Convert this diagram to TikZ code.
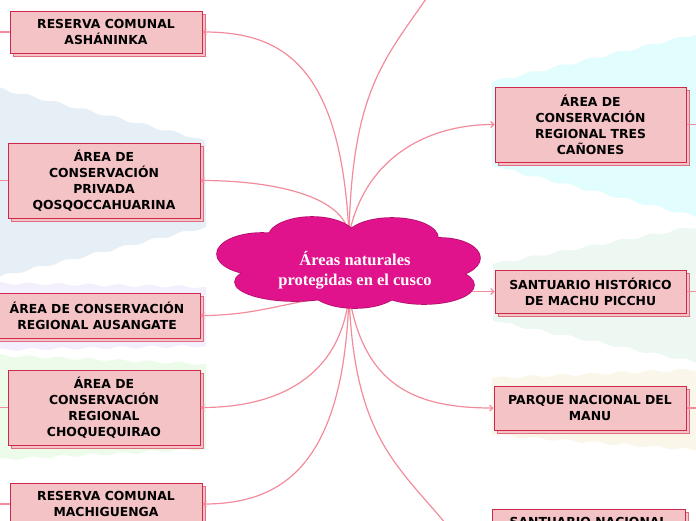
\documentclass[tikz,border=0pt]{standalone}
\usepackage{fontspec}
\setmainfont{DejaVu Sans}
\newfontfamily\hubfont{Liberation Serif}
\usetikzlibrary{arrows.meta,shadows,decorations.pathmorphing}
\definecolor{boxfill}{HTML}{F4C3C6}
\definecolor{boxline}{HTML}{D0284A}
\definecolor{shadowline}{HTML}{DE6E80}
\definecolor{linkcol}{HTML}{F28C9C}
\definecolor{hubfill}{HTML}{E0138C}
\definecolor{hubline}{HTML}{B30F6C}
\definecolor{bandblue}{HTML}{E6EFF6}
\definecolor{bandlilac}{HTML}{F4EFFC}
\definecolor{bandgreen}{HTML}{EDFCEA}
\definecolor{bandcyan}{HTML}{E1FDFE}
\definecolor{bandmint}{HTML}{EDF8F2}
\definecolor{bandsand}{HTML}{FAF6EA}

\begin{document}
\begin{tikzpicture}[x=1pt,y=-1pt,
  topic/.style={draw=boxline,line width=1pt,fill=boxfill,
    copy shadow={shadow xshift=3pt,shadow yshift=-3pt,draw=shadowline,fill=boxfill},
    align=center,minimum width=192pt,minimum height=42pt,inner sep=2pt,
    font=\fontsize{12.4}{16}\selectfont\bfseries},
  hub/.style={align=center,text=white,inner sep=0pt,
    font=\hubfont\fontsize{16.5}{20}\selectfont\bfseries},
  wave/.style={decorate,decoration={snake,amplitude=1.3pt,segment length=30pt}},
  link/.style={draw=linkcol,line width=1.2pt,-{Straight Barb[length=3pt,width=6pt]}},
  stub/.style={draw=linkcol,line width=1.2pt}
]
  \clip (0,0) rectangle (696,520);

  \fill[bandblue] (-10,86) decorate[wave]{-- (205,140)} -- (206,227) decorate[wave]{-- (-10,279)} -- cycle;
  \fill[bandlilac] (-10,283) decorate[wave]{-- (206,287)} -- (206,346) decorate[wave]{-- (-10,350)} -- cycle;
  \fill[bandgreen] (-10,355) decorate[wave]{-- (206,364)} -- (206,449) decorate[wave]{-- (-10,460)} -- cycle;
  \fill[bandcyan] (492,82) decorate[wave]{-- (710,31)} -- (710,220) decorate[wave]{-- (492,166)} -- cycle;
  \fill[bandmint] (493,264) decorate[wave]{-- (710,224)} -- (710,365) decorate[wave]{-- (493,321)} -- cycle;
  \fill[bandsand] (492,378) decorate[wave]{-- (710,369)} -- (710,451) decorate[wave]{-- (492,435)} -- cycle;

  \node[topic] (ash) at (106,32) {RESERVA COMUNAL\\ASHÁNINKA};
  \node[topic,minimum height=75pt] (qosqo) at (104,180.5) {ÁREA DE\\CONSERVACIÓN\\PRIVADA\\QOSQOCCAHUARINA};
  \node[topic,minimum width=206pt,minimum height=45pt] (ausangate) at (97,315.5) {ÁREA DE CONSERVACIÓN\\REGIONAL AUSANGATE};
  \node[topic,minimum height=75pt] (choque) at (104,407.5) {ÁREA DE\\CONSERVACIÓN\\REGIONAL\\CHOQUEQUIRAO};
  \node[topic] (machi) at (106,504) {RESERVA COMUNAL\\MACHIGUENGA};
  \node[topic,minimum width=191pt,minimum height=75pt] (tres) at (590.5,124.5) {ÁREA DE\\CONSERVACIÓN\\REGIONAL TRES\\CAÑONES};
  \node[topic,minimum width=191pt,minimum height=43pt] (machu) at (590.5,291.5) {SANTUARIO HISTÓRICO\\DE MACHU PICCHU};
  \node[topic,minimum height=44pt] (manu) at (590,408) {PARQUE NACIONAL DEL\\MANU};
  \node[topic,minimum width=193pt] (santuario) at (588.5,530) {SANTUARIO NACIONAL\\\phantom{X}};

  \coordinate (hubtop) at (349,235);
  \coordinate (hubbot) at (349,295);
  \coordinate (topout) at (428,-4);
  \coordinate (botout) at (446,524);
  \coordinate (edgeL) at (-20,0);
  \coordinate (edgeR) at (720,0);

  \path[link] (hubtop) .. controls +(-8,-170) and +(80,0) .. (ash.east);
  \path[stub] (hubtop) .. controls +(3,-145) and +(-43,63) .. (topout);
  \path[link] (hubtop) .. controls +(15,-75) and +(-70,0) .. (tres.west);
  \path[link] (hubtop) .. controls +(-5,-40) and +(70,0) .. (qosqo.east);
  \path[link] (hubbot) .. controls +(-60,5) and +(60,0) .. (ausangate.east);
  \path[link] (hubbot) .. controls +(-8,80) and +(80,0) .. (choque.east);
  \path[link] (hubbot) .. controls +(-5,170) and +(80,0) .. (machi.east);
  \path[link] (hubbot) .. controls +(15,90) and +(-80,0) .. (manu.west);
  \path[stub] (hubbot) .. controls +(5,140) and +(-50,-60) .. (botout);
  \path[link] (hubbot |- machu.west) -- (machu.west);

  \foreach \n in {ash,qosqo,choque,machi}
    \path[stub] (\n.west) -- (\n.west -| edgeL);
  \foreach \n in {tres,machu,manu}
    \path[stub] (\n.east) -- (\n.east -| edgeR);

  % cloud: outlined lobes, then filled over
  \foreach \cx/\cy/\rx/\ry in {262/254/45/21,312/238/44/21,392/238/46/20,440/258/40/20,
      424/285/50/19,355/288/45/20,295/282/60/19,349/262/105/30}
    \draw[hubline,line width=1.6pt] (\cx,\cy) ellipse [x radius=\rx,y radius=\ry];
  \foreach \cx/\cy/\rx/\ry in {262/254/45/21,312/238/44/21,392/238/46/20,440/258/40/20,
      424/285/50/19,355/288/45/20,295/282/60/19,349/262/105/30}
    \fill[hubfill] (\cx,\cy) ellipse [x radius=\rx,y radius=\ry];
  \node[hub] (hub) at (355,270) {Áreas naturales\\protegidas en el cusco};
\end{tikzpicture}
\end{document}
